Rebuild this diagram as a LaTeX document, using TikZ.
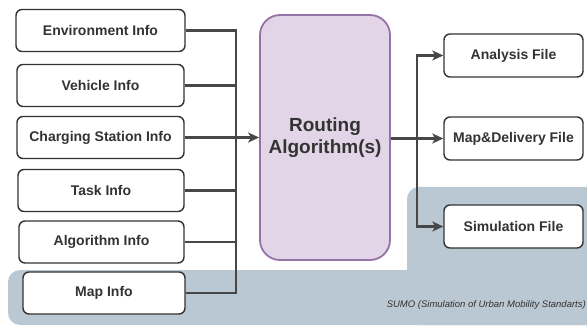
\documentclass[tikz,border=0pt]{standalone}
\usepackage{fontspec}
\setmainfont{Liberation Sans}
\usetikzlibrary{arrows.meta}
\definecolor{zone}{HTML}{BAC8D3}
\definecolor{algofill}{HTML}{E1D5E7}
\definecolor{algoline}{HTML}{9673A6}
\definecolor{ink}{HTML}{333333}
\definecolor{wirec}{HTML}{474747}
\tikzset{
  infobox/.style={draw=ink, fill=white, line width=1.4pt, rounded corners=6pt,
    minimum height=42pt, inner sep=0pt, text=ink,
    font=\fontsize{14pt}{16pt}\selectfont\bfseries},
  filebox/.style={infobox, minimum width=139pt, minimum height=43pt},
  algobox/.style={draw=algoline, fill=algofill, line width=1.8pt, rounded corners=20pt,
    minimum width=130pt, minimum height=245pt, align=center, text=ink,
    font=\fontsize{19pt}{22pt}\selectfont\bfseries},
  wire/.style={draw=wirec, line width=2.5pt},
  tip/.style={-{Stealth[length=11pt,width=10pt,inset=3pt]}},
}
\begin{document}
\begin{tikzpicture}[x=1pt,y=-1pt]
\useasboundingbox (0,0) rectangle (587,326);

% simulation zone backdrop
\begin{scope}
  \clip (0,0) rectangle (587,326);
  \fill[zone, rounded corners=12pt] (8,270) rectangle (620,325);
  \fill[zone, rounded corners=12pt] (407,187) rectangle (620,325);
  \fill[zone] (407,250) rectangle (500,300);
\end{scope}
\node[font=\fontsize{9.5pt}{11pt}\selectfont\itshape, text=ink, anchor=east, inner sep=0pt]
  (sumo) at (586,305) {SUMO (Simulation of Urban Mobility Standarts)};

% input boxes
\node[infobox, minimum width=169pt] (env) at (100.5,30.5) {Environment Info};
\node[infobox, minimum width=167pt] (veh) at (100.5,85.5) {Vehicle Info};
\node[infobox, minimum width=167pt] (chg) at (100.5,137.5) {Charging Station Info};
\node[infobox, minimum width=166pt] (task) at (101,190.5) {Task Info};
\node[infobox, minimum width=165pt] (alg) at (101.5,242) {Algorithm Info};
\node[infobox, minimum width=162pt] (map) at (104,293) {Map Info};

% routing algorithm
\node[algobox] (route) at (325,137.5) {Routing\\Algorithm(s)};

% output boxes
\node[filebox] (ana) at (513.5,55.5) {Analysis File};
\node[filebox] (mapd) at (513.5,138.5) {Map\&Delivery File};
\node[filebox] (sim) at (513.5,226.5) {Simulation File};

% input bus
\coordinate (bus) at (236,0);
\draw[wire] (env.east) -| (bus |- map.east) -- (map.east);
\draw[wire] (veh.east) -- (veh.east -| bus);
\draw[wire] (task.east) -- (task.east -| bus);
\draw[wire] (alg.east) -- (alg.east -| bus);
\draw[wire, tip] (chg.east) -- (chg.east -| route.west);

% output bus
\coordinate (obus) at (417,0);
\draw[wire, tip] (route.east |- mapd.west) -- (mapd.west);
\draw[wire, tip] (obus |- sim.west) -- (obus |- ana.west) -- (ana.west);
\draw[wire, tip] (obus |- ana.west) -- (obus |- sim.west) -- (sim.west);
\end{tikzpicture}
\end{document}
